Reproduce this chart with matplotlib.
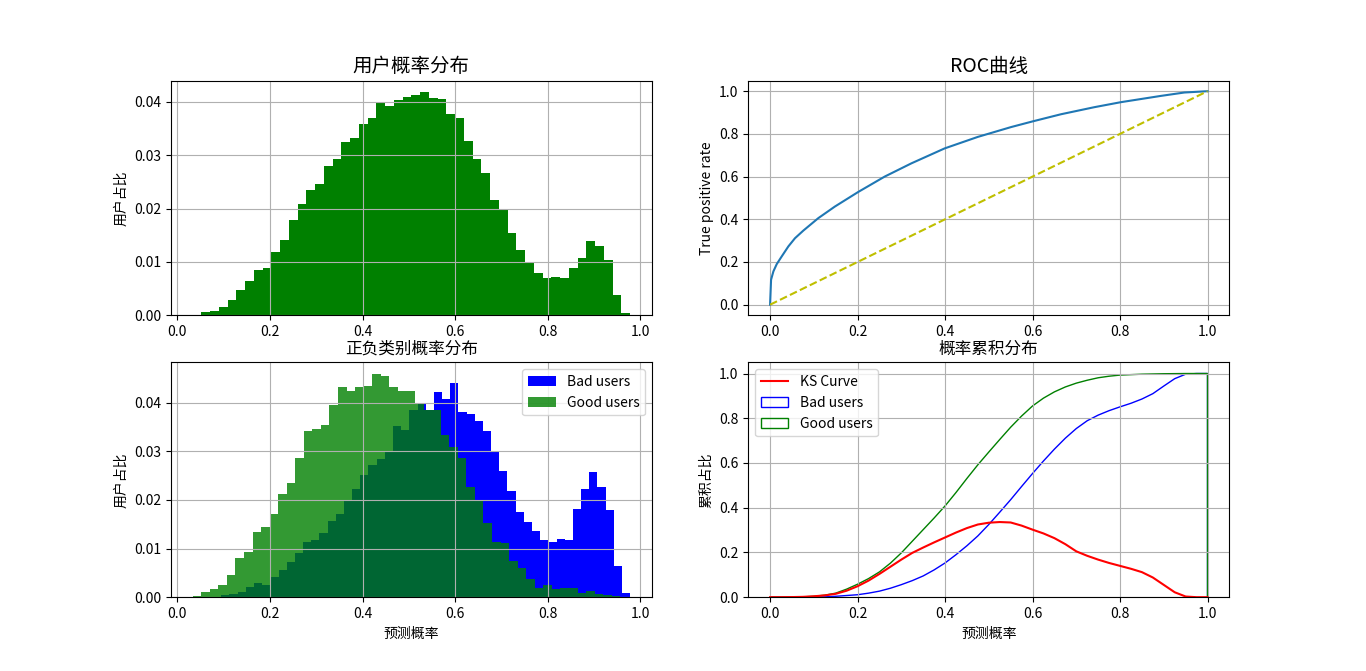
import numpy as np
import matplotlib
matplotlib.use("Agg")
import matplotlib.pyplot as plt
from matplotlib.patches import Polygon

plt.rcParams['font.family'] = ['Noto Sans CJK SC', 'DejaVu Sans']

# all users: 50 bins between min and max score, share of users per bin
all_range = (0.033, 0.978)
all_share = [0.0001, 0.0006, 0.0008, 0.0015, 0.0028, 0.0047, 0.0064, 0.0085, 0.0088, 0.0118,
             0.0141, 0.0179, 0.0209, 0.0235, 0.0246, 0.0280, 0.0293, 0.0324, 0.0333, 0.0359,
             0.0369, 0.0397, 0.0393, 0.0403, 0.0410, 0.0412, 0.0419, 0.0408, 0.0406, 0.0378,
             0.0369, 0.0327, 0.0293, 0.0267, 0.0216, 0.0197, 0.0154, 0.0122, 0.0098, 0.0079,
             0.0070, 0.0071, 0.0070, 0.0088, 0.0107, 0.0139, 0.0130, 0.0103, 0.0039, 0.0004]

# bad users (50 bins)
bad_range = (0.095, 0.978)
bad_share = [0.0004, 0.0006, 0.0011, 0.0021, 0.0030, 0.0025, 0.0042, 0.0056, 0.0073, 0.0091,
             0.0114, 0.0118, 0.0133, 0.0157, 0.0172, 0.0197, 0.0223, 0.0252, 0.0271, 0.0285,
             0.0298, 0.0353, 0.0343, 0.0384, 0.0397, 0.0384, 0.0423, 0.0407, 0.0440, 0.0380,
             0.0376, 0.0362, 0.0341, 0.0298, 0.0260, 0.0219, 0.0176, 0.0155, 0.0137, 0.0118,
             0.0114, 0.0120, 0.0118, 0.0182, 0.0223, 0.0258, 0.0227, 0.0180, 0.0065, 0.0009]

# good users (50 bins)
good_range = (0.033, 0.957)
good_share = [0.0003, 0.0011, 0.0017, 0.0025, 0.0046, 0.0081, 0.0093, 0.0135, 0.0145, 0.0172,
              0.0213, 0.0234, 0.0287, 0.0341, 0.0345, 0.0355, 0.0395, 0.0432, 0.0425, 0.0432,
              0.0434, 0.0460, 0.0454, 0.0432, 0.0425, 0.0425, 0.0400, 0.0384, 0.0384, 0.0333,
              0.0309, 0.0287, 0.0226, 0.0197, 0.0153, 0.0114, 0.0111, 0.0075, 0.0060, 0.0038,
              0.0019, 0.0025, 0.0017, 0.0019, 0.0019, 0.0009, 0.0013, 0.0007, 0.0005, 0.0003]

# ROC curve
fpr = [0, 0.0023, 0.0076, 0.0152, 0.0266, 0.0418, 0.057, 0.076, 0.110, 0.148, 0.2015,
       0.262, 0.323, 0.399, 0.475, 0.551, 0.601, 0.665, 0.741, 0.802, 0.8935, 0.947, 1.0]
tpr = [0, 0.117, 0.156, 0.190, 0.226, 0.273, 0.3115, 0.347, 0.405, 0.4595, 0.528,
       0.600, 0.662, 0.732, 0.786, 0.832, 0.859, 0.892, 0.925, 0.9486, 0.978, 0.9938, 1.0]

# cumulative share by threshold
thresholds = [0.000, 0.025, 0.050, 0.075, 0.100, 0.125, 0.150, 0.175, 0.200, 0.225,
              0.250, 0.275, 0.300, 0.325, 0.350, 0.375, 0.400, 0.425, 0.450, 0.475,
              0.500, 0.525, 0.550, 0.575, 0.600, 0.625, 0.650, 0.675, 0.700, 0.725,
              0.750, 0.775, 0.800, 0.825, 0.850, 0.875, 0.900, 0.925, 0.950, 0.975, 1.000]
good_cum = [0, 0, 0.0005, 0.0015, 0.004, 0.009, 0.018, 0.036, 0.058, 0.083,
            0.113, 0.152, 0.198, 0.250, 0.302, 0.354, 0.408, 0.468, 0.531, 0.592,
            0.649, 0.705, 0.760, 0.810, 0.855, 0.890, 0.918, 0.940, 0.957, 0.970,
            0.981, 0.988, 0.993, 0.995, 0.997, 0.998, 0.999, 0.9995, 1.0, 1.0, 1.0]
bad_cum = [0, 0, 0, 0, 0.0002, 0.0015, 0.004, 0.0075, 0.011, 0.018,
           0.027, 0.040, 0.056, 0.074, 0.095, 0.122, 0.153, 0.190, 0.230, 0.274,
           0.325, 0.380, 0.436, 0.495, 0.553, 0.609, 0.662, 0.711, 0.754, 0.789,
           0.814, 0.834, 0.851, 0.867, 0.886, 0.910, 0.944, 0.977, 0.997, 1.0, 1.0]
ks_vals = [0, 0, 0.0005, 0.0015, 0.004, 0.008, 0.015, 0.029, 0.049, 0.074,
           0.104, 0.136, 0.168, 0.198, 0.222, 0.245, 0.267, 0.289, 0.309, 0.325,
           0.333, 0.336, 0.334, 0.320, 0.302, 0.285, 0.264, 0.237, 0.205, 0.185,
           0.168, 0.153, 0.140, 0.127, 0.112, 0.088, 0.055, 0.022, 0.003, 0, 0]


def hist_from_shares(ax, rng, shares, **kw):
    edges = np.linspace(rng[0], rng[1], len(shares) + 1)
    centers = (edges[:-1] + edges[1:]) / 2
    return ax.hist(centers, bins=edges, weights=shares, **kw)


fig, ax = plt.subplots(2, 2, figsize=(13.66, 6.71), dpi=100)

# 用户概率分布
plt.sca(ax[0, 0])
hist_from_shares(ax[0, 0], all_range, all_share, color='g')
plt.ylabel('用户占比')
plt.title('用户概率分布', fontsize=14)
plt.grid(True)

# ROC
plt.sca(ax[0, 1])
plt.plot(fpr, tpr)
plt.plot([0, 1], [0, 1], 'y--')
plt.ylabel('True positive rate')
plt.title('ROC曲线', fontsize=14)
plt.grid(True)

# 正负类别概率分布
plt.sca(ax[1, 0])
hist_from_shares(ax[1, 0], bad_range, bad_share, color='b', label='Bad users')
hist_from_shares(ax[1, 0], good_range, good_share, color='g', alpha=0.8, label='Good users')
plt.legend(loc='upper right')
plt.xlabel('预测概率')
plt.ylabel('用户占比')
plt.title('正负类别概率分布', fontsize=12)
plt.grid(True)

# 概率累积分布
plt.sca(ax[1, 1])
plt.plot(thresholds, ks_vals, color='r', label='KS Curve')
for cum, c, lab in [(bad_cum, 'b', 'Bad users'), (good_cum, 'g', 'Good users')]:
    xs = list(thresholds) + [thresholds[-1]]
    ys = list(cum) + [0]
    poly = Polygon(np.column_stack([xs, ys]), closed=False, fill=False,
                   edgecolor=c, linewidth=1, label=lab)
    ax[1, 1].add_patch(poly)
ax[1, 1].autoscale_view()
plt.ylim(bottom=0)
plt.legend(loc='upper left')
plt.xlabel('预测概率')
plt.ylabel('累积占比')
plt.title('概率累积分布', fontsize=12)
plt.grid(True)

plt.savefig('out.png', dpi=100)
